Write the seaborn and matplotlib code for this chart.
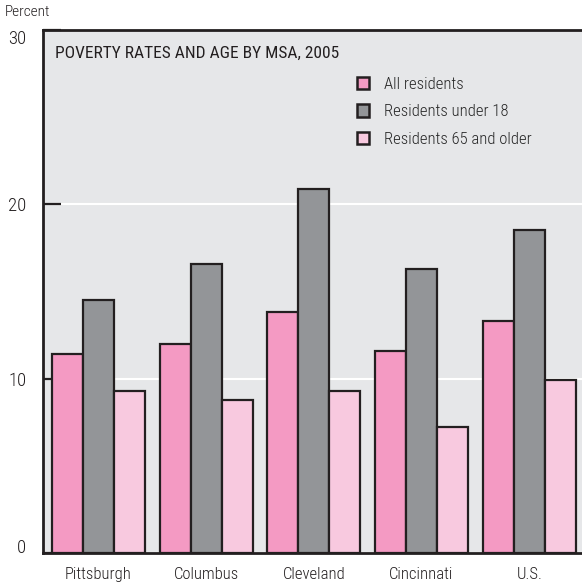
import matplotlib
matplotlib.use("Agg")
import matplotlib.pyplot as plt
from matplotlib.patches import Patch
import seaborn as sns
import pandas as pd
import logging

logging.getLogger("matplotlib.font_manager").setLevel(logging.ERROR)

msas = ["Pittsburgh", "Columbus", "Cleveland", "Cincinnati", "U.S."]
groups = ["All residents", "Residents under 18", "Residents 65 and older"]
all_residents = [11.4, 12.0, 13.8, 11.6, 13.3]
under_18 = [14.5, 16.6, 20.9, 16.3, 18.5]
over_65 = [9.3, 8.8, 9.3, 7.2, 9.9]

colors = ["#f49ac3", "#939598", "#f8c9df"]
edge = "#231f20"
bg = "#e6e7e9"

rows = []
for name, vals in zip(groups, [all_residents, under_18, over_65]):
    for m, v in zip(msas, vals):
        rows.append({"msa": m, "group": name, "rate": v})
df = pd.DataFrame(rows)

sns.set_style("white")
narrow = ["Roboto Condensed", "Archivo Narrow", "PT Sans Narrow", "Liberation Sans Narrow",
          "Open Sans Condensed", "Fira Sans Condensed", "Liberation Sans", "DejaVu Sans"]
plt.rcParams["font.family"] = narrow
plt.rcParams["font.weight"] = 300

fig = plt.figure(figsize=(5.82, 5.84), dpi=100)
ax = fig.add_axes([43 / 582, 1 - 553 / 584, 1 - 43 / 582, 523 / 584])
ax.set_facecolor(bg)

sns.barplot(data=df, x="msa", y="rate", hue="group", hue_order=groups,
            order=msas, palette=colors, width=0.865, edgecolor=edge,
            linewidth=1.6, saturation=1, legend=False, ax=ax)

ax.set_ylim(0, 30)
ax.set_xlim(-0.515, 4.49)
ax.set_yticks([0, 10, 20, 30])
ax.set_axisbelow(True)
ax.yaxis.grid(True, color="white", linewidth=1.5)
ax.set_xlabel("")
ax.set_ylabel("")

for side in ["left", "top", "bottom"]:
    ax.spines[side].set_color(edge)
    ax.spines[side].set_linewidth(2)
ax.spines["right"].set_visible(False)

ax.tick_params(axis="y", left=True, direction="in", length=13, width=1.6, color=edge,
               pad=12, labelsize=13.5, labelcolor="#231f20")
ax.tick_params(axis="x", bottom=False, length=0, pad=10, labelsize=12, labelcolor="#231f20")
ylabels = ax.get_yticklabels()
ylabels[0].set_va("baseline")
ylabels[-1].set_va("top")

ax.text(12 / 539, 0.97, "POVERTY RATES AND AGE BY MSA, 2005",
        transform=ax.transAxes, ha="left", va="top", fontsize=12.5,
        fontweight="normal", color="#231f20")

handles = [Patch(facecolor=c, edgecolor=edge, linewidth=1.8) for c in colors]
ax.legend(handles, groups, loc="upper left", bbox_to_anchor=(0.582, 0.91),
          frameon=False, fontsize=12, handlelength=0.75, handleheight=0.75,
          handletextpad=0.9, labelspacing=0.74, borderaxespad=0, borderpad=0)

fig.text(5 / 582, 1 - 12 / 584, "Percent", ha="left", va="center",
         fontsize=11, color="#231f20")

fig.savefig("out.png", dpi=100)
